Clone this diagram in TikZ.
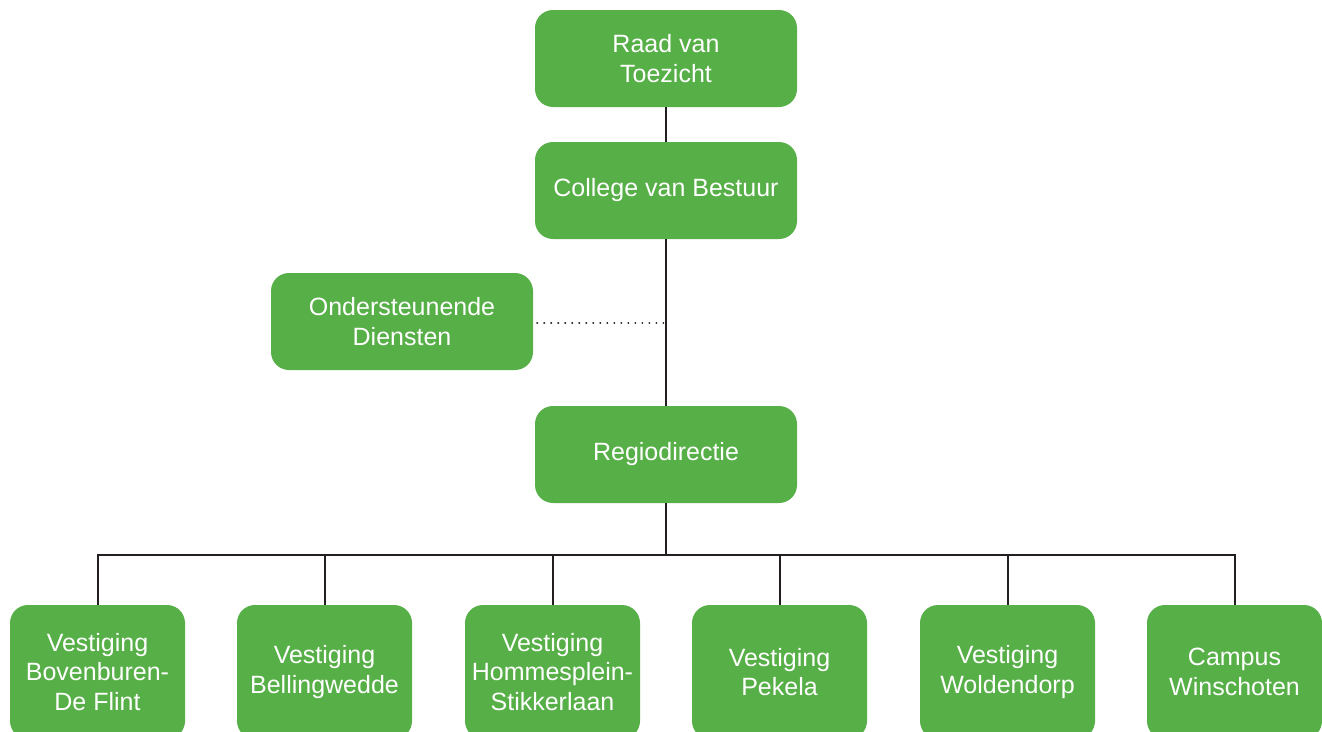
\documentclass[tikz,border=0pt]{standalone}
\usepackage{fontspec}
\setmainfont{Liberation Sans}
\definecolor{boxgreen}{HTML}{57AF47}
\definecolor{linedark}{HTML}{231F20}
\begin{document}
\begin{tikzpicture}[x=1pt,y=-1pt,
  box/.style={fill=boxgreen, draw=none, rounded corners=18pt, text=white,
    align=center, inner sep=0pt, font=\fontsize{25}{29.5}\selectfont},
  topbox/.style={box, minimum width=262pt, minimum height=97pt},
  botbox/.style={box, minimum width=175pt, minimum height=134pt},
  conn/.style={draw=linedark, line width=2pt},
  dotconn/.style={draw=linedark, line width=2.2pt, dash pattern=on 0.01pt off 7pt, line cap=round}]
\useasboundingbox (0,0) rectangle (1322,731);
\clip (0,0) rectangle (1322,731);
\node[topbox] (rvt) at (666,58.5) {Raad van\\Toezicht};
\node[topbox] (cvb) at (666,190.5) {College van Bestuur};
\node[topbox] (od) at (402,321.5) {Ondersteunende\\Diensten};
\node[topbox] (rd) at (666,454.5) {Regiodirectie};
\node[botbox] (v1) at (97.5,672) {Vestiging\\Bovenburen-\\De Flint};
\node[botbox] (v2) at (324.5,672) {Vestiging\\Bellingwedde};
\node[botbox] (v3) at (552.5,672) {Vestiging\\Hommesplein-\\Stikkerlaan};
\node[botbox] (v4) at (779.5,672) {Vestiging\\Pekela};
\node[botbox] (v5) at (1007.5,672) {Vestiging\\Woldendorp};
\node[botbox] (v6) at (1234.5,672) {Campus\\Winschoten};
\coordinate (bus) at (666,555);
\coordinate (dj) at (666,323);
\draw[conn] (rvt.south) -- (cvb.north);
\draw[conn] (cvb.south) -- (rd.north);
\draw[dotconn] ([xshift=4pt]od.east |- dj) -- (dj);
\draw[conn] (rd.south) -- (bus);
\draw[conn] (v1.north) |- (bus) -| (v6.north);
\foreach \n in {v2,v3,v4,v5} \draw[conn] (\n.north) -- (\n.north |- bus);
\end{tikzpicture}
\end{document}
